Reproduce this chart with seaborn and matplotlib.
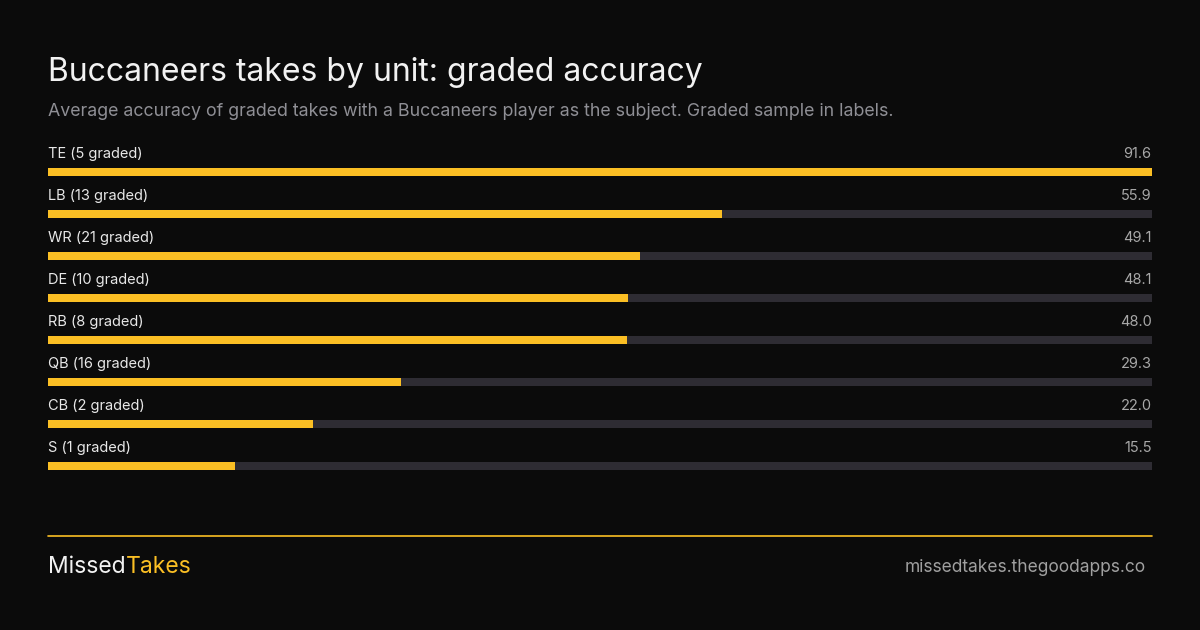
import matplotlib
matplotlib.use("Agg")
import matplotlib.pyplot as plt
import seaborn as sns
import pandas as pd

units = ["TE", "LB", "WR", "DE", "RB", "QB", "CB", "S"]
graded = [5, 13, 21, 10, 8, 16, 2, 1]
accuracy = [91.6, 55.9, 49.1, 48.1, 48.0, 29.3, 22.0, 15.5]

BG = "#0b0b0b"
YELLOW = "#fbbf24"
TRACK = "#2e2c33"

sns.set_theme(style="white")
plt.rcParams["font.family"] = ["Inter", "DejaVu Sans"]

df = pd.DataFrame({"unit": units, "acc": accuracy})
top = max(accuracy)
df["track"] = top

fig = plt.figure(figsize=(12, 6.3), dpi=100, facecolor=BG)
ax = fig.add_axes([48 / 1200, 1 - 487 / 630, 1104 / 1200, 336 / 630])
ax.set_facecolor(BG)

sns.barplot(data=df, y="unit", x="track", color=TRACK, width=0.2, ax=ax,
            orient="h", saturation=1, linewidth=0)
sns.barplot(data=df, y="unit", x="acc", color=YELLOW, width=0.2, ax=ax,
            orient="h", saturation=1, linewidth=0)

for i, (u, g, a) in enumerate(zip(units, graded, accuracy)):
    ax.text(0, i - 0.43, f"{u} ({g} graded)", color="#e8e8e8", fontsize=10.5,
            va="center", ha="left")
    ax.text(top * 0.9995, i - 0.43, f"{a:.1f}", color="#a8a8a8", fontsize=10.5,
            va="center", ha="right")

ax.set_xlim(0, top)
ax.set_ylim(7.5, -0.5)
ax.axis("off")

fig.text(48 / 1200, 1 - 72 / 630, "Buccaneers takes by unit: graded accuracy",
         color="#f2f2f2", fontsize=23, va="center")
fig.text(48 / 1200, 1 - 111 / 630,
         "Average accuracy of graded takes with a Buccaneers player as the subject. Graded sample in labels.",
         color="#8f8f95", fontsize=12.8, va="center")

fig.add_artist(plt.Line2D([48 / 1200, 1152 / 1200], [1 - 536 / 630] * 2,
                          color=YELLOW, linewidth=1.2))
t1 = fig.text(48 / 1200, 1 - 567 / 630, "Missed", color="#f2f2f2", fontsize=16.5, va="center")
fig.canvas.draw()
bb = t1.get_window_extent()
fig.text(bb.x1 / 1200, 1 - 567 / 630, "Takes", color=YELLOW, fontsize=16.5, va="center")
fig.text(1146 / 1200, 1 - 567 / 630, "missedtakes.thegoodapps.co", color="#a0a0a0",
         fontsize=12.5, va="center", ha="right")

fig.savefig("out.png", dpi=100, facecolor=BG)
